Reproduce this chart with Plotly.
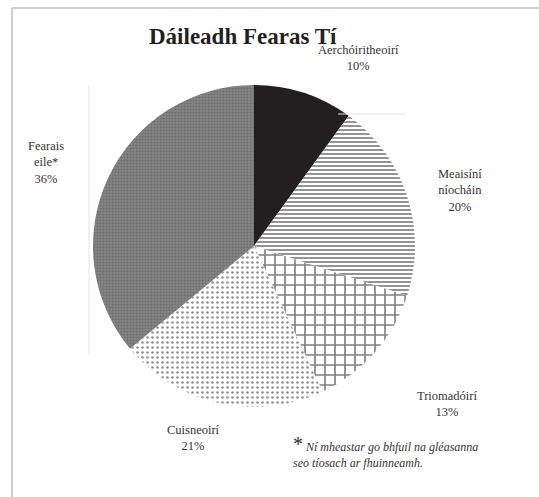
import plotly.graph_objects as go

# data
labels = ["Aerchóiritheoirí", "Meaisíní níocháin", "Triomadóirí", "Cuisneoirí", "Fearais eile*"]
label_lines = ["Aerchóiritheoirí", "Meaisíní<br>níocháin", "Triomadóirí", "Cuisneoirí", "Fearais<br>eile*"]
values = [10, 20, 13, 21, 36]

# styling (kept apart from the data)
fill_colors = ["#231f20", "#ffffff", "#ffffff", "#ffffff", "#7f7f7f"]
shapes = ["", "-", "+", ".", "."]
fg_colors = ["#231f20", "#111111", "#000000", "#222222", "#555555"]
bg_colors = ["#231f20", "#ffffff", "#ffffff", "#ffffff", "#858585"]
sizes = [4, 4, 10, 5, 3]
solidity = [1, 0.45, 0.3, 0.22, 0.4]
label_pos = [(358, 58), (460, 190), (447, 404), (193, 438), (46, 162)]

W, H = 539, 497
cx, cy, r = 254, 246, 161
FONT = "Liberation Serif"

fig = go.Figure(go.Pie(
    labels=labels,
    values=values,
    sort=False,
    direction="clockwise",
    rotation=0,
    textinfo="none",
    hoverinfo="label+percent",
    showlegend=False,
    marker=dict(
        colors=fill_colors,
        line=dict(width=0),
        pattern=dict(shape=shapes, fgcolor=fg_colors, bgcolor=bg_colors,
                     size=sizes, solidity=solidity, fillmode="overlay"),
    ),
    domain=dict(x=[(cx - r) / W, (cx + r) / W], y=[(H - cy - r) / H, (H - cy + r) / H]),
))

total = sum(values)
for txt, v, (px, py) in zip(label_lines, values, label_pos):
    fig.add_annotation(
        x=px / W, y=1 - py / H, xref="paper", yref="paper",
        xanchor="center", yanchor="middle",
        text=f"{txt}<br>{round(100 * v / total)}%",
        showarrow=False, align="center",
        font=dict(family=FONT, size=12.5, color="#333333"),
    )

fig.add_annotation(
    x=243 / W, y=1 - 36 / H, xref="paper", yref="paper",
    xanchor="center", yanchor="middle",
    text="<b>Dáileadh Fearas Tí</b>", showarrow=False,
    font=dict(family=FONT, size=23, color="#231f20"),
)

fig.add_annotation(
    x=291 / W, y=1 - 451 / H, xref="paper", yref="paper",
    xanchor="left", yanchor="middle",
    text="<span style='font-size:20px'>*</span> <i>Ní mheastar go bhfuil na gléasanna</i>"
         "<br><i>seo tíosach ar fhuinneamh.</i>",
    showarrow=False, align="left",
    font=dict(family=FONT, size=12, color="#333333"),
)

# outer frame and faint leader lines
fig.add_shape(type="line", xref="paper", yref="paper", x0=12 / W, x1=12 / W, y0=0, y1=1 - 8 / H,
              line=dict(color="#bfbfbf", width=1.5))
fig.add_shape(type="line", xref="paper", yref="paper", x0=12 / W, x1=1, y0=1 - 8 / H, y1=1 - 8 / H,
              line=dict(color="#bfbfbf", width=1.5))
fig.add_shape(type="line", xref="paper", yref="paper", x0=89 / W, x1=89 / W, y0=1 - 353 / H, y1=1 - 85 / H,
              line=dict(color="#e3e3e3", width=1))
fig.add_shape(type="line", xref="paper", yref="paper", x0=338 / W, x1=405 / W, y0=1 - 114 / H, y1=1 - 114 / H,
              line=dict(color="#e3e3e3", width=1))

fig.update_layout(
    width=W, height=H,
    margin=dict(l=0, r=0, t=0, b=0),
    paper_bgcolor="white",
    plot_bgcolor="white",
)

fig.write_html("out.html", config={"displayModeBar": False},
               post_script="document.body.style.margin='0';document.body.style.overflow='hidden';")
